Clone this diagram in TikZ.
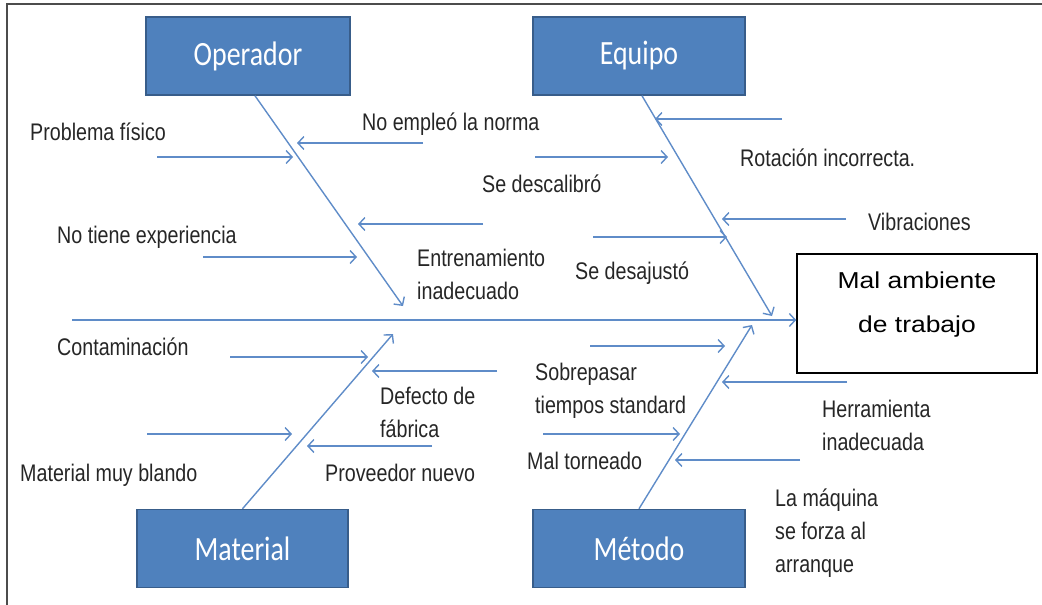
\documentclass[tikz,border=0pt]{standalone}
\usepackage{fontspec}
\usetikzlibrary{arrows.meta}
\newfontfamily\labfont{Liberation Sans}[FakeStretch=0.82]
\newfontfamily\boxfont{Carlito}[FakeStretch=0.82]
\newfontfamily\efffont{Liberation Sans}[FakeStretch=1.15]
\definecolor{boneblue}{RGB}{95,140,200}
\definecolor{boxblue}{RGB}{79,129,189}
\definecolor{boxedge}{RGB}{56,93,138}
\tikzset{
  bone/.style={draw=boneblue, line width=1.4pt,
    -{Straight Barb[length=6pt,width=13pt]}},
  cat/.style={draw=boxedge, fill=boxblue, line width=1.5pt, text=white,
    font=\boxfont\fontsize{34}{40}\selectfont,
    minimum width=212pt, minimum height=78pt},
  cause/.style={anchor=base west, inner sep=0pt, align=left, text=black!85,
    font=\labfont\fontsize{24}{33}\selectfont},
  effbox/.style={draw=black, line width=1.5pt, fill=white,
    minimum width=240pt, minimum height=119pt}
}

\begin{document}
\begin{tikzpicture}[x=1pt,y=-1pt]
  \useasboundingbox (0,0) rectangle (1042,605);
  \draw[black!70, line width=2pt] (7,605) -- (7,4) -- (1042,4);

  % Category boxes and effect
  \node[cat, minimum width=204pt] (op) at (248,56) {Operador};
  \node[cat] (eq) at (639,56) {Equipo};
  \node[cat, minimum width=211pt] (mat) at (242.5,548.5) {Material};
  \node[cat] (met) at (639,548.5) {Método};
  \node[effbox] (eff) at (917,313.5) {};
  \node[anchor=base, align=center, inner sep=0pt,
    font=\efffont\fontsize{23}{44}\selectfont] (efft) at (917,332)
    {Mal ambiente\\de trabajo};

  % Spine
  \coordinate (tail) at (72,320);
  \draw[bone] (tail) -- (tail -| eff.west);

  % Main bones
  \coordinate (opTip) at (403,306);
  \coordinate (eqTip) at (772,316);
  \coordinate (matTip) at (393,334);
  \coordinate (metTip) at (752,325);
  \draw[bone] ([xshift=7pt]op.south) -- (opTip);
  \draw[bone] ([xshift=3pt]eq.south) -- (eqTip);
  \draw[bone] (mat.north) -- (matTip);
  \draw[bone] (met.north) -- (metTip);

  % Operador causes
  \draw[bone] (157,157) coordinate (a1) -- (293,157) coordinate (b1);
  \draw[bone] (423,143) coordinate (a2) -- (297,143) coordinate (b2);
  \draw[bone] (203,257) coordinate (a3) -- (357,257) coordinate (b3);
  \draw[bone] (483,224) coordinate (a4) -- (358,224) coordinate (b4);
  \node[cause] (c1) at (30,140) {Problema físico};
  \node[cause] (c2) at (362,130) {No empleó la norma};
  \node[cause] (c3) at (57,243) {No tiene experiencia};
  \node[cause] (c4) at (417,299) {Entrenamiento\\inadecuado};

  % Equipo causes
  \draw[bone] (782,119) coordinate (a5) -- (655,119) coordinate (b5);
  \draw[bone] (535,157) coordinate (a6) -- (668,157) coordinate (b6);
  \draw[bone] (846,219) coordinate (a7) -- (722,219) coordinate (b7);
  \draw[bone] (593,237) coordinate (a8) -- (727,237) coordinate (b8);
  \node[cause] (c5) at (740,166) {Rotación incorrecta.};
  \node[cause] (c6) at (482,192) {Se descalibró};
  \node[cause] (c7) at (868,230) {Vibraciones};
  \node[cause] (c8) at (575,279) {Se desajustó};

  % Material causes
  \draw[bone] (230,357) coordinate (a9) -- (368,357) coordinate (b9);
  \draw[bone] (497,371) coordinate (a10) -- (372,371) coordinate (b10);
  \draw[bone] (147,434) coordinate (a11) -- (292,434) coordinate (b11);
  \draw[bone] (432,446) coordinate (a12) -- (307,446) coordinate (b12);
  \node[cause] (c9) at (57,355) {Contaminación};
  \node[cause] (c10) at (380,437) {Defecto de\\fábrica};
  \node[cause] (c11) at (20,481) {Material muy blando};
  \node[cause] (c12) at (325,481) {Proveedor nuevo};

  % Metodo causes
  \draw[bone] (590,346) coordinate (a13) -- (725,346) coordinate (b13);
  \draw[bone] (847,382) coordinate (a14) -- (722,382) coordinate (b14);
  \draw[bone] (543,434) coordinate (a15) -- (680,434) coordinate (b15);
  \draw[bone] (800,460) coordinate (a16) -- (675,460) coordinate (b16);
  \node[cause] (c13) at (535,413) {Sobrepasar\\tiempos standard};
  \node[cause] (c14) at (822,450) {Herramienta\\inadecuada};
  \node[cause] (c15) at (527,469) {Mal torneado};
  \node[cause] (c16) at (775,572) {La máquina\\se forza al\\arranque};
\end{tikzpicture}
\end{document}
